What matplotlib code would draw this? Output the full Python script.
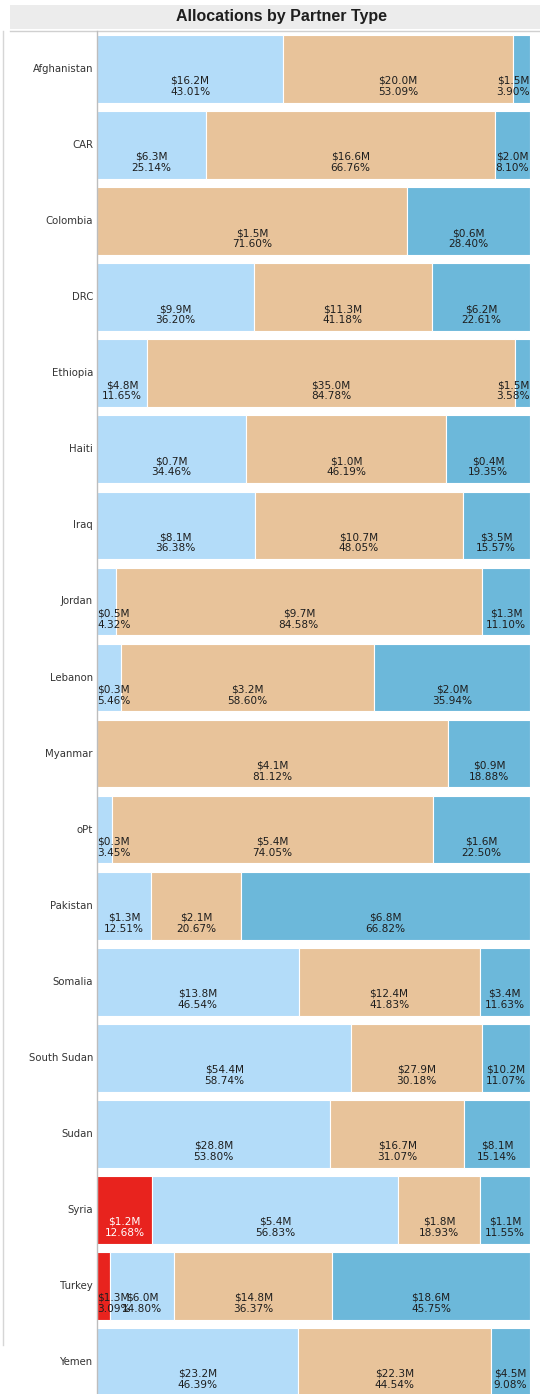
import matplotlib.pyplot as plt
from matplotlib.patches import Rectangle
from matplotlib.lines import Line2D

countries = ["Afghanistan", "CAR", "Colombia", "DRC", "Ethiopia", "Haiti", "Iraq",
             "Jordan", "Lebanon", "Myanmar", "oPt", "Pakistan", "Somalia",
             "South Sudan", "Sudan", "Syria", "Turkey", "Yemen"]

partner_types = ["Government", "International NGO", "National NGO", "UN Agency"]

# amounts in $M
gov_amt =  [0, 0, 0, 0, 0, 0, 0, 0, 0, 0, 0, 0, 0, 0, 0, 1.2, 1.3, 0]
ingo_amt = [16.2, 6.3, 0, 9.9, 4.8, 0.7, 8.1, 0.5, 0.3, 0, 0.3, 1.3, 13.8, 54.4, 28.8, 5.4, 6.0, 23.2]
nngo_amt = [20.0, 16.6, 1.5, 11.3, 35.0, 1.0, 10.7, 9.7, 3.2, 4.1, 5.4, 2.1, 12.4, 27.9, 16.7, 1.8, 14.8, 22.3]
un_amt =   [1.5, 2.0, 0.6, 6.2, 1.5, 0.4, 3.5, 1.3, 2.0, 0.9, 1.6, 6.8, 3.4, 10.2, 8.1, 1.1, 18.6, 4.5]

# share of country total, %
gov_pct =  [0, 0, 0, 0, 0, 0, 0, 0, 0, 0, 0, 0, 0, 0, 0, 12.68, 3.09, 0]
ingo_pct = [43.01, 25.14, 0, 36.20, 11.65, 34.46, 36.38, 4.32, 5.46, 0, 3.45, 12.51, 46.54, 58.74, 53.80, 56.83, 14.80, 46.39]
nngo_pct = [53.09, 66.76, 71.60, 41.18, 84.78, 46.19, 48.05, 84.58, 58.60, 81.12, 74.05, 20.67, 41.83, 30.18, 31.07, 18.93, 36.37, 44.54]
un_pct =   [3.90, 8.10, 28.40, 22.61, 3.58, 19.35, 15.57, 11.10, 35.94, 18.88, 22.50, 66.82, 11.63, 11.07, 15.14, 11.55, 45.75, 9.08]

colors = ["#e8231e", "#b3dcf9", "#e8c39a", "#6cb8da"]
text_colors = ["white", "#1e1e1e", "#1e1e1e", "#1e1e1e"]

W, H = 540, 1394
fig = plt.figure(figsize=(W / 100, H / 100), dpi=100)

# title band
fig.patches.append(Rectangle((10 / W, 1 - 29 / H), 530 / W, 24 / H, transform=fig.transFigure,
                             facecolor="#ececec", edgecolor="none"))
fig.text(281 / W, 1 - 17 / H, "Allocations by Partner Type", ha="center", va="center",
         fontsize=11.5, fontweight="bold", color="#1e1e1e", family="Liberation Sans")
fig.lines.append(Line2D([10 / W, 1], [1 - 31 / H, 1 - 31 / H], transform=fig.transFigure,
                        color="#d0d0d0", lw=1))
fig.lines.append(Line2D([3 / W, 3 / W], [1 - 31 / H, 1 - 1345 / H], transform=fig.transFigure,
                        color="#d6d6d6", lw=1))

pitch = 76.06
n = len(countries)
top = 31
ax = fig.add_axes([97 / W, 1 - (top + n * pitch) / H, 433 / W, n * pitch / H])
ax.set_xlim(0, 100)
ax.set_ylim(n - 0.5, -0.5)
ax.axis("off")
fig.lines.append(Line2D([97 / W, 97 / W], [1 - 31 / H, 0], transform=fig.transFigure,
                        color="#bdbdbd", lw=1))

amts = [gov_amt, ingo_amt, nngo_amt, un_amt]
pcts = [gov_pct, ingo_pct, nngo_pct, un_pct]

ypos = list(range(n))
left = [0.0] * n
for k in range(4):
    ax.barh(ypos, pcts[k], left=left, height=0.89, color=colors[k], edgecolor="white",
            linewidth=0.8, label=partner_types[k])
    left = [l + p for l, p in zip(left, pcts[k])]

for i, c in enumerate(countries):
    fig.text(93 / W, 1 - (top + (i + 0.5) * pitch) / H, c, ha="right", va="center",
             fontsize=7.3, color="#333333", family="DejaVu Sans")

# segment labels, centred and kept inside the pane
fig.canvas.draw()
renderer = fig.canvas.get_renderer()
inv = ax.transData.inverted()
for i in range(n):
    start = 0.0
    for k in range(4):
        p = pcts[k][i]
        if p <= 0:
            continue
        cx = start + p / 2
        t = ax.text(cx, i + 0.23, f"${amts[k][i]:.1f}M\n{p:.2f}%", ha="center", va="center",
                    fontsize=7.6, color=text_colors[k], family="DejaVu Sans",
                    linespacing=1.15)
        bb = t.get_window_extent(renderer)
        x0 = inv.transform((bb.x0, bb.y0))[0]
        x1 = inv.transform((bb.x1, bb.y0))[0]
        half = (x1 - x0) / 2
        if 2 * half > p:
            # label spills out of its segment: dark text
            t.set_color("#1e1e1e")
        if cx - half < 0:
            t.set_x(half)
        elif cx + half > 100:
            t.set_x(100 - half)
        start += p

fig.savefig("out.png", dpi=100)
